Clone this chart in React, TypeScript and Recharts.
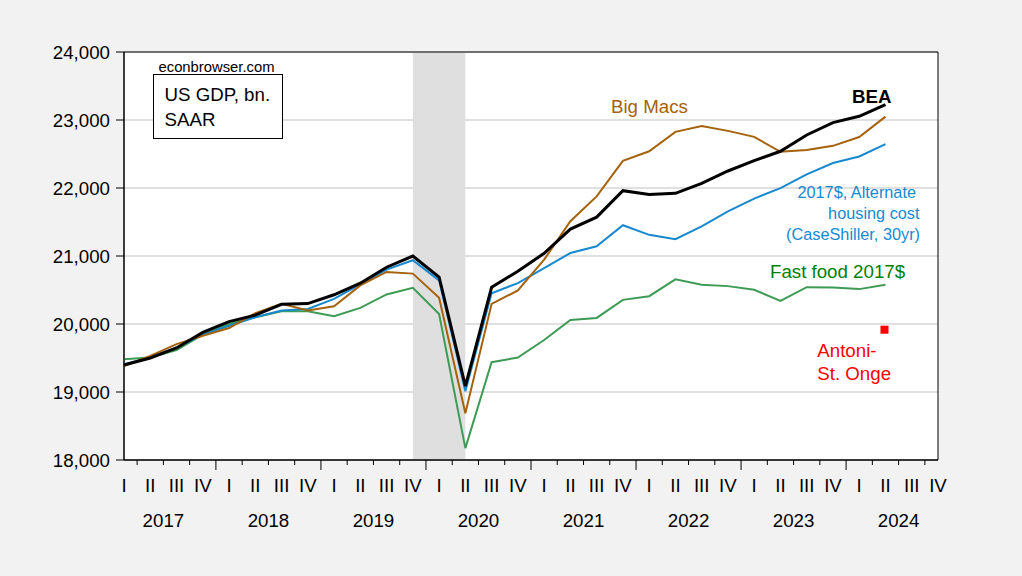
import React from 'react';
import { ComposedChart, Line, XAxis, YAxis, CartesianGrid, ReferenceArea } from 'recharts';

const quarterNames = ['I', 'II', 'III', 'IV'];
const years = ['2017', '2018', '2019', '2020', '2021', '2022', '2023', '2024'];

const bea = [19398, 19500, 19648, 19877, 20035, 20130, 20290, 20300, 20430, 20600, 20835, 21000, 20691, 19085,
  20540, 20775, 21040, 21395, 21571, 21961, 21906, 21921, 22067, 22250, 22403, 22540, 22780, 22961, 23054, 23227];
const altHousing = [19407, 19506, 19654, 19842, 19975, 20099, 20198, 20222, 20370, 20583, 20800, 20938, 20642, 19010,
  20453, 20601, 20823, 21044, 21143, 21453, 21311, 21247, 21435, 21655, 21845, 21998, 22200, 22368, 22463, 22645];
const bigMacs = [19383, 19531, 19704, 19827, 19941, 20158, 20296, 20198, 20262, 20568, 20765, 20741, 20385, 18688,
  20296, 20493, 20946, 21512, 21877, 22399, 22540, 22826, 22910, 22840, 22752, 22532, 22560, 22620, 22750, 23050];
const fastFood = [19481, 19506, 19615, 19842, 20000, 20099, 20188, 20188, 20114, 20237, 20435, 20533, 20148, 18175,
  19438, 19507, 19764, 20059, 20089, 20355, 20409, 20656, 20577, 20557, 20503, 20340, 20542, 20537, 20513, 20577];
const antoniStOnge = [{ quarter: 29, value: 19916 }];
const yTicks = [18000, 19000, 20000, 21000, 22000, 23000, 24000];

const NQ = years.length * 4;
const data = Array.from({ length: NQ }, (_, i) => ({
  idx: i,
  bea: bea[i] ?? null,
  alt: altHousing[i] ?? null,
  mac: bigMacs[i] ?? null,
  food: fastFood[i] ?? null,
  antoni: antoniStOnge.find((a) => a.quarter === i)?.value ?? null,
}));

const xTicks: number[] = [];
for (let v = 0; v <= NQ - 1; v += 0.5) xTicks.push(v);

const FONT = '"Liberation Sans", Arial, sans-serif';

const XTick = (props: any) => {
  const { x, y, payload } = props;
  const v = payload.value as number;
  if (Number.isInteger(v)) {
    return (
      <text x={x} y={y + 31.7} textAnchor="middle" fontSize={18.7} fill="#000" fontFamily={FONT}>
        {quarterNames[v % 4]}
      </text>
    );
  }
  const isMajor = (v - 3.5) % 4 === 0;
  const isYearCenter = (v - 1.5) % 4 === 0;
  return (
    <g>
      <line x1={x} x2={x} y1={y} y2={y + (isMajor ? 10 : 5)} stroke="#000" strokeWidth={1} />
      {isYearCenter && (
        <text x={x} y={y + 66.7} textAnchor="middle" fontSize={18.7} fill="#000" fontFamily={FONT}>
          {years[(v - 1.5) / 4]}
        </text>
      )}
    </g>
  );
};

const SquareDot = (props: any) => {
  const { cx, cy, value, index } = props;
  if (cx == null || cy == null || value == null) return <g key={`d${index}`} />;
  return <rect key={`d${index}`} x={cx - 5} y={cy - 4} width={8} height={8} fill="#ff0000" />;
};

export default function App() {
  return (
    <div style={{ position: 'absolute', left: 0, top: 0, width: 1022, height: 576, background: '#f2f2f2', overflow: 'hidden' }}>
      <ComposedChart
        width={1022}
        height={576}
        data={data}
        margin={{ top: 52, right: 84, left: 0, bottom: 0 }}
      >
        <CartesianGrid vertical={false} stroke="#c0c0c0" fill="#ffffff" fillOpacity={1} />
        <ReferenceArea x1={11} x2={13} y1={18000} y2={24000} fill="#dfdfdf" fillOpacity={1} stroke="none" />
        <XAxis
          dataKey="idx"
          type="number"
          domain={[0, NQ - 1]}
          ticks={xTicks}
          interval={0}
          tick={<XTick />}
          tickLine={false}
          tickSize={0}
          tickMargin={0}
          height={116}
          axisLine={{ stroke: '#000' }}
          allowDecimals
        />
        <YAxis
          type="number"
          domain={[18000, 24000]}
          ticks={yTicks}
          interval={0}
          width={124}
          tickSize={8}
          tickMargin={6}
          tickLine={{ stroke: '#000' }}
          axisLine={{ stroke: '#000' }}
          tick={{ fontSize: 18.7, fill: '#000', fontFamily: FONT }}
          tickFormatter={(v: number) => v.toLocaleString('en-US')}
        />
        <Line type="linear" dataKey="food" stroke="#3e9b55" strokeWidth={2} dot={false} isAnimationActive={false} />
        <Line type="linear" dataKey="alt" stroke="#1789cf" strokeWidth={2} dot={false} isAnimationActive={false} />
        <Line type="linear" dataKey="mac" stroke="#a5620b" strokeWidth={2} dot={false} isAnimationActive={false} />
        <Line type="linear" dataKey="bea" stroke="#000000" strokeWidth={3} dot={false} isAnimationActive={false} />
        <Line type="linear" dataKey="antoni" stroke="none" dot={SquareDot} activeDot={false} isAnimationActive={false} />
        <ReferenceArea x1={0} x2={NQ - 1} y1={18000} y2={24000} fill="none" stroke="#000" strokeWidth={1} />
      </ComposedChart>
      <svg width={1022} height={576} style={{ position: 'absolute', left: 0, top: 0, pointerEvents: 'none' }}>
        <g fontFamily={FONT}>
          <text x={158.5} y={71.5} fontSize={14.8} fill="#000">econbrowser.com</text>
          <rect x={153.5} y={74.5} width={129} height={64} fill="#ffffff" stroke="#000" strokeWidth={1} />
          <text x={164.5} y={101} fontSize={18.7} fill="#000">US GDP, bn.</text>
          <text x={164.5} y={126} fontSize={18.7} fill="#000">SAAR</text>
          <text x={852} y={102.5} fontSize={18.7} fontWeight="bold" fill="#000">BEA</text>
          <text x={611} y={112.5} fontSize={18.7} fill="#a5620b">Big Macs</text>
          <text x={916} y={198.3} fontSize={16.3} fill="#1789cf" textAnchor="end">2017$, Alternate</text>
          <text x={919.5} y={219.3} fontSize={16.3} fill="#1789cf" textAnchor="end">housing cost</text>
          <text x={920} y={240.3} fontSize={16.3} fill="#1789cf" textAnchor="end">(CaseShiller, 30yr)</text>
          <text x={770} y={277.7} fontSize={18.7} fill="#008000">Fast food 2017$</text>
          <text x={817.3} y={356.7} fontSize={18.7} fill="#ff0000">Antoni-</text>
          <text x={817.3} y={380.3} fontSize={18.7} fill="#ff0000">St. Onge</text>
        </g>
      </svg>
    </div>
  );
}
